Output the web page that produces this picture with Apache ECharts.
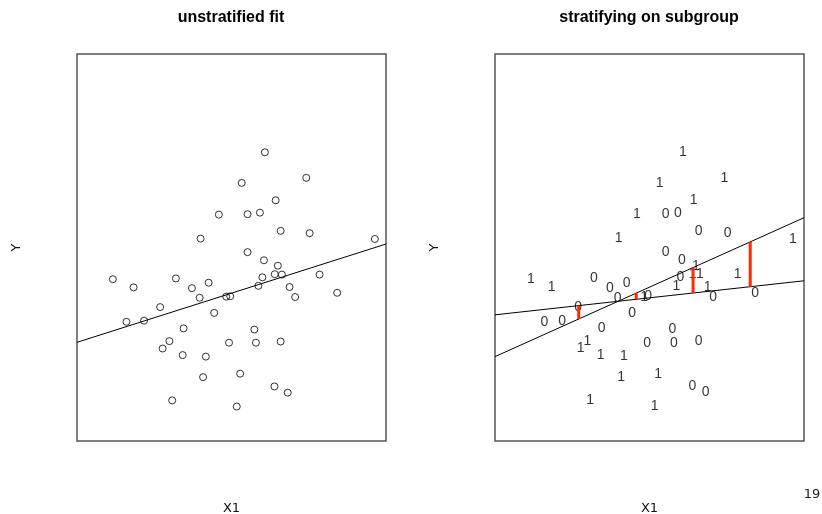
<!DOCTYPE html>
<html>
<head>
<meta charset="utf-8">
<script src="https://cdn.jsdelivr.net/npm/echarts@6/dist/echarts.min.js"></script>
<style>html,body{margin:0;padding:0;background:#fff}#c{width:822px;height:514px}</style>
</head>
<body>
<div id="c"></div>
<script>
// X1 values (same points in both panels)
var x1 = [6.08,5.33,7.42,6.43,4.59,5.52,5.92,4.00,6.59,7.53,9.64,5.52,6.05,6.50,6.00,6.40,6.63,7.85,
          1.16,1.83,3.20,3.72,4.26,3.97,4.83,4.96,5.87,6.88,7.06,8.42,2.69,1.60,2.17,4.44,3.45,5.74,
          2.99,2.77,4.92,5.79,6.59,3.42,4.17,5.28,4.08,6.39,6.82,3.08,5.17];
// Y values
var yv = [7.46,6.67,6.80,6.22,5.85,5.86,5.90,5.23,5.43,5.37,5.22,4.88,4.67,4.53,4.23,4.31,4.30,4.30,
          4.18,3.97,4.20,3.95,4.09,3.70,3.73,3.74,4.01,3.98,3.72,3.83,3.46,3.08,3.11,3.31,2.91,2.88,
          2.58,2.39,2.54,2.54,2.57,2.22,2.18,1.74,1.65,1.41,1.25,1.05,0.89];
// subgroup labels
var subgroup = [1,1,1,1,1,0,0,1,0,0,1,0,0,1,0,1,1,1,
                1,1,0,0,0,0,1,0,1,1,0,0,0,0,0,0,0,0,
                1,1,0,0,0,1,1,1,1,0,0,1,1];
// fitted lines: [value at X1=0, value at X1=10]
var unstratFit = [2.55, 5.09];
var steepFit = [2.18, 5.77];
var flatFit = [3.26, 4.14];
// positions of the red difference segments
var diffX = [2.71, 4.57, 6.41, 8.26];

function at(fit, x){ return fit[0] + (fit[1]-fit[0]) * x / 10; }

var pts = x1.map(function(x,i){ return [x, yv[i]]; });
var ptsLab = x1.map(function(x,i){ return [x, yv[i], subgroup[i]]; });

var chart = echarts.init(document.getElementById('c'), null, {renderer:'canvas'});

function xAx(idx){
  return {gridIndex: idx, type:'value', min:0, max:10, name:'X1', nameLocation:'middle', nameGap:61,
    nameTextStyle:{fontFamily:'DejaVu Sans', fontSize:13, color:'#111'},
    axisLine:{show:false}, axisTick:{show:false}, axisLabel:{show:false}, splitLine:{show:false}};
}
function yAx(idx){
  return {gridIndex: idx, type:'value', min:0, max:10, name:'Y', nameLocation:'middle', nameGap:54,
    nameTextStyle:{fontFamily:'DejaVu Sans', fontSize:13, color:'#111'},
    axisLine:{show:false}, axisTick:{show:false}, axisLabel:{show:false}, splitLine:{show:false}};
}

var series = [
  {type:'scatter', xAxisIndex:0, yAxisIndex:0, data: pts, symbol:'circle', symbolSize:7,
   itemStyle:{color:'transparent', borderColor:'#000', borderWidth:1}, silent:true, z:2},
  {type:'line', xAxisIndex:0, yAxisIndex:0, data:[[0,unstratFit[0]],[10,unstratFit[1]]],
   symbol:'none', lineStyle:{color:'#000', width:1}, silent:true, z:3},
  {type:'scatter', xAxisIndex:1, yAxisIndex:1, data: ptsLab, symbolSize:1,
   itemStyle:{color:'transparent'},
   label:{show:true, position:'inside', formatter:function(p){return String(p.value[2]);},
     fontFamily:'Liberation Sans', fontSize:14, color:'#000'}, silent:true, z:2},
  {type:'line', xAxisIndex:1, yAxisIndex:1, data:[[0,steepFit[0]],[10,steepFit[1]]],
   symbol:'none', lineStyle:{color:'#000', width:1}, silent:true, z:3},
  {type:'line', xAxisIndex:1, yAxisIndex:1, data:[[0,flatFit[0]],[10,flatFit[1]]],
   symbol:'none', lineStyle:{color:'#000', width:1}, silent:true, z:3}
];
diffX.forEach(function(x){
  series.push({type:'line', xAxisIndex:1, yAxisIndex:1, data:[[x, at(flatFit,x)],[x, at(steepFit,x)]],
    symbol:'none', lineStyle:{color:'#ff2a00', width:3}, silent:true, z:5});
});

chart.setOption({
  animation:false,
  backgroundColor:'#fff',
  grid:[
    {left:77, top:54, width:309, height:387, show:true, borderColor:'#555', borderWidth:1.5, outerBoundsMode:'none', containLabel:false},
    {left:495, top:54, width:309, height:387, show:true, borderColor:'#555', borderWidth:1.5, outerBoundsMode:'none', containLabel:false}
  ],
  xAxis:[xAx(0), xAx(1)],
  yAxis:[yAx(0), yAx(1)],
  series: series,
  graphic:[
    {type:'text', x:231, y:18, style:{text:'unstratified fit', fontFamily:'Liberation Sans', fontWeight:'bold', fontSize:16, fill:'#000', textAlign:'center', textVerticalAlign:'middle'}},
    {type:'text', x:649, y:18, style:{text:'stratifying on subgroup', fontFamily:'Liberation Sans', fontWeight:'bold', fontSize:16, fill:'#000', textAlign:'center', textVerticalAlign:'middle'}},
    {type:'text', x:812, y:495, style:{text:'19', fontFamily:'DejaVu Sans', fontSize:13, fill:'#222', textAlign:'center', textVerticalAlign:'middle'}}
  ]
});
</script>
</body>
</html>
